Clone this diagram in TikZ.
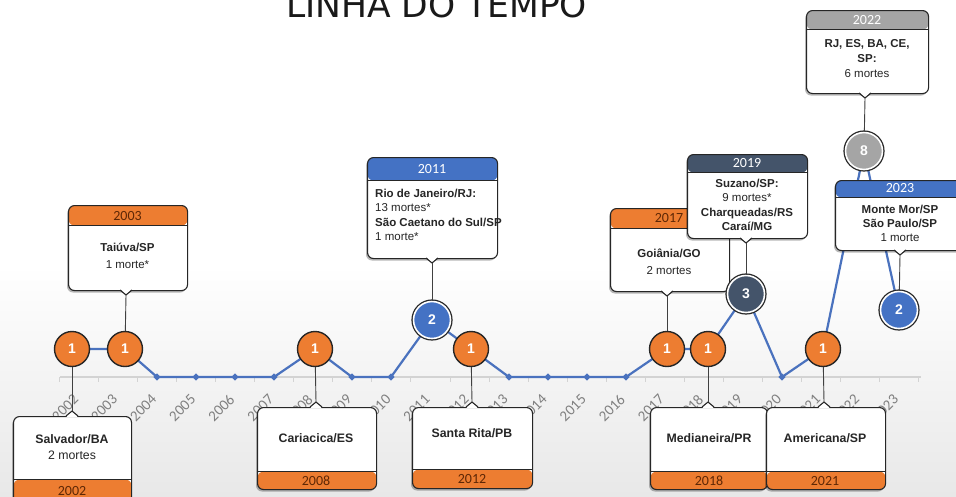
\documentclass[tikz,border=0pt]{standalone}
\usepackage{fontspec}
\setmainfont{Liberation Sans}
\newfontfamily\calfont{Carlito}
\newfontfamily\titlefont{DejaVu Sans}
\usetikzlibrary{shapes.geometric,shadows}
\definecolor{orC}{HTML}{ED7D31}
\definecolor{blC}{HTML}{4472C4}
\definecolor{naC}{HTML}{44546A}
\definecolor{grC}{HTML}{A5A5A5}
\definecolor{brC}{HTML}{5E2705}
\definecolor{lnC}{HTML}{4A72BE}
\definecolor{axC}{HTML}{D3D3D3}
\definecolor{ylC}{HTML}{808080}
\begin{document}
\begin{tikzpicture}[x=1pt,y=-1pt,
  card/.style={draw=black!85, line width=1.1pt, rounded corners=6pt, fill=white, inner sep=0pt, anchor=north west,
    drop shadow={shadow xshift=-1.5pt, shadow yshift=-2pt, opacity=0.28, fill=black}},
  hdr/.style 2 args={path picture={
    \fill[#1] (path picture bounding box.north west) rectangle ([yshift=-#2pt]path picture bounding box.north east);
    \draw[black!85,line width=1.1pt] ([yshift=-#2pt]path picture bounding box.north west) -- ([yshift=-#2pt]path picture bounding box.north east);}},
  ftr/.style 2 args={path picture={
    \fill[#1] (path picture bounding box.south west) rectangle ([yshift=#2pt]path picture bounding box.south east);
    \draw[black!85,line width=1.1pt] ([yshift=#2pt]path picture bounding box.south west) -- ([yshift=#2pt]path picture bounding box.south east);}},
  yr/.style={font=\calfont\fontsize{14}{14}\selectfont, inner sep=0pt},
  body/.style={font=\fontsize{11.5}{#1}\selectfont, align=center, text=black!85, inner sep=0pt},
  body/.default=16,
  bodyb/.style={font=\bfseries\fontsize{12.3}{14}\selectfont, align=center, text=black!85, inner sep=0pt},
  circ/.style={circle, minimum size=35pt, inner sep=0pt, fill=#1, draw=black!85, line width=1.4pt, text=white,
    font=\bfseries\fontsize{14}{14}\selectfont},
  rcirc/.style={circle, minimum size=37pt, inner sep=0pt, fill=#1, draw=white, line width=1.6pt, text=white,
    font=\bfseries\fontsize{14}{14}\selectfont, preaction={draw=black!85, line width=4.2pt}},
  dline/.style={draw=lnC, line width=2.2pt, line join=round},
  mk/.style={diamond, fill=lnC, inner sep=0pt, minimum size=7.5pt},
  conn/.style={draw=black!75, line width=0.9pt},
  ylab/.style={font=\calfont\fontsize{15}{15}\selectfont, text=ylC, rotate=45, anchor=east, inner sep=0pt},
  pics/ndown/.style={code={
    \fill[white] (-6,-1.3) -- (6,-1.3) -- (0,5) -- cycle;
    \draw[black!85,line width=1.1pt,line join=round] (-6,0) -- (0,5) -- (6,0);}},
  pics/nup/.style={code={
    \fill[white] (-6,1.3) -- (6,1.3) -- (0,-5) -- cycle;
    \draw[black!85,line width=1.1pt,line join=round] (-6,0) -- (0,-5) -- (6,0);}}
]
\useasboundingbox (0,0) rectangle (956,496);
\fill[white] (0,0) rectangle (956,496);
\shade[top color=white, bottom color=black!9] (0,265) rectangle (956,496);

% title
\node[font=\titlefont\fontsize{34.5}{34.5}\selectfont, anchor=base, text=black!90, inner sep=0pt] (title) at (436.5,17) {LINHA DO TEMPO};

% axis
\coordinate (axL) at (60,377);
\coordinate (axR) at (921,377);
\draw[axC, line width=1.6pt] (axL) -- (axR);
\foreach \k in {0,...,22} {
  \draw[axC, line width=1pt] (59.5+\k*39.05,377) -- ++(0,5);
}
\foreach \yy [count=\i from 0] in {2002,...,2023} {
  \node[ylab] (yl\yy) at (79+\i*39.05-3,397) {\yy};
}

% data points
\coordinate (p2002) at (72,349);
\coordinate (p2003) at (125,349);
\coordinate (p2004) at (157,377);
\coordinate (p2005) at (196,377);
\coordinate (p2006) at (235,377);
\coordinate (p2007) at (274,377);
\coordinate (p2008) at (315,349);
\coordinate (p2009) at (352,377);
\coordinate (p2010) at (391,377);
\coordinate (p2011) at (432,320);
\coordinate (p2012) at (471,349);
\coordinate (p2013) at (509,377);
\coordinate (p2014) at (548,377);
\coordinate (p2015) at (587,377);
\coordinate (p2016) at (626,377);
\coordinate (p2017) at (667,349);
\coordinate (p2018) at (708,349);
\coordinate (p2019) at (746,294);
\coordinate (p2020) at (782,377);
\coordinate (p2021) at (823,349);
\coordinate (p2022) at (864,151);
\coordinate (p2023) at (899,310);
\draw[dline] (p2002) -- (p2003) -- (p2004) -- (p2005) -- (p2006) -- (p2007) -- (p2008) -- (p2009) -- (p2010)
  -- (p2011) -- (p2012) -- (p2013) -- (p2014) -- (p2015) -- (p2016) -- (p2017) -- (p2018) -- (p2019)
  -- (p2020) -- (p2021) -- (p2022) -- (p2023);
\foreach \yy in {2004,2005,2006,2007,2009,2010,2013,2014,2015,2016,2020} {
  \node[mk] (m\yy) at (p\yy) {};
}

% ---------- upper cards ----------
\node[card, hdr={orC}{20}, minimum width=119pt, minimum height=85pt] (b2003) at (68,205) {};
\node[yr, text=brC] (h2003) at (127.5,215.5) {2003};
\node[body=17] (x2003) at (127.5,256) {\textbf{Taiúva/SP}\\1 morte*};
\pic at (126,290) {ndown};
\coordinate (t2003) at (126,295);

\node[card, hdr={blC}{23}, minimum width=130pt, minimum height=101pt] (b2011) at (367,157) {};
\node[yr, text=white] (h2011) at (432,169) {2011};
\node[body=14.3, align=left, anchor=north west] (x2011) at (375,189)
  {\textbf{Rio de Janeiro/RJ:}\\13 mortes*\\\textbf{São Caetano do Sul/SP}\\1 morte*};
\pic at (432,258) {ndown};
\coordinate (t2011) at (432,263);

\node[card, hdr={orC}{20}, minimum width=119pt, minimum height=83pt] (b2017) at (610,208) {};
\node[yr, text=brC] (h2017) at (669,218.5) {2017};
\node[body=17] (x2017) at (669,262) {\textbf{Goiânia/GO}\\2 mortes};
\pic at (667,291) {ndown};
\coordinate (t2017) at (667,296);

\node[card, hdr={naC}{18}, minimum width=120pt, minimum height=84pt] (b2019) at (687,154) {};
\node[yr, text=white] (h2019) at (747,163.5) {2019};
\node[body=14.3] (x2019) at (747,205) {\textbf{Suzano/SP:}\\9 mortes*\\\textbf{Charqueadas/RS}\\\textbf{Caraí/MG}};
\pic at (746,238) {ndown};
\coordinate (t2019) at (746,243);

\node[card, hdr={grC}{19}, minimum width=122pt, minimum height=83pt] (b2022) at (806,10) {};
\node[yr, text=white] (h2022) at (867,20) {2022};
\node[body=15] (x2022) at (867,59) {\textbf{RJ, ES, BA, CE,}\\\textbf{SP:}\\6 mortes};
\pic at (865,93) {ndown};
\coordinate (t2022) at (865,98);

\node[card, hdr={blC}{17}, minimum width=130pt, minimum height=70pt] (b2023) at (835,180) {};
\node[yr, text=white] (h2023) at (900,188.5) {2023};
\node[body=14] (x2023) at (900,223) {\textbf{Monte Mor/SP}\\\textbf{São Paulo/SP}\\1 morte};
\pic at (900,250) {ndown};
\coordinate (t2023) at (900,255);

% ---------- lower cards ----------
\node[card, ftr={orC}{23}, minimum width=118pt, minimum height=86pt] (b2002) at (13,416) {};
\node[yr, text=brC] (h2002) at (72,491) {2002};
\node[body=16, font=\fontsize{12.3}{16}\selectfont] (x2002) at (72,447) {\textbf{Salvador/BA}\\2 mortes};
\pic at (72,416) {nup};
\coordinate (t2002) at (72,411);

\node[card, ftr={orC}{18}, minimum width=119pt, minimum height=82pt] (b2008) at (257,407) {};
\node[yr, text=brC] (h2008) at (316,481) {2008};
\node[bodyb] (x2008) at (316,438) {Cariacica/ES};
\pic at (316,407) {nup};
\coordinate (t2008) at (316,402);

\node[card, ftr={orC}{19}, minimum width=120pt, minimum height=81pt] (b2012) at (412,407) {};
\node[yr, text=brC] (h2012) at (472,479) {2012};
\node[bodyb] (x2012) at (472,433) {Santa Rita/PB};
\pic at (472,407) {nup};
\coordinate (t2012) at (472,402);

\node[card, ftr={orC}{18}, minimum width=117pt, minimum height=82pt] (b2018) at (650,407) {};
\node[yr, text=brC] (h2018) at (709,481) {2018};
\node[bodyb] (x2018) at (709,438) {Medianeira/PR};
\pic at (708,407) {nup};
\coordinate (t2018) at (708,402);

\node[card, ftr={orC}{18}, minimum width=119pt, minimum height=82pt] (b2021) at (766,407) {};
\node[yr, text=brC] (h2021) at (825,481) {2021};
\node[bodyb] (x2021) at (825,438) {Americana/SP};
\pic at (824,407) {nup};
\coordinate (t2021) at (824,402);

% ---------- circles ----------
\node[circ=orC] (c2002) at (p2002) {1};
\node[circ=orC] (c2003) at (p2003) {1};
\node[circ=orC] (c2008) at (p2008) {1};
\node[rcirc=blC] (c2011) at (p2011) {2};
\node[circ=orC] (c2012) at (p2012) {1};
\node[circ=orC] (c2017) at (p2017) {1};
\node[circ=orC] (c2018) at (p2018) {1};
\node[rcirc=naC] (c2019) at (p2019) {3};
\node[circ=orC] (c2021) at (p2021) {1};
\node[rcirc=grC] (c2022) at (p2022) {8};
\node[rcirc=blC] (c2023) at (p2023) {2};

% ---------- connectors ----------
\foreach \yy in {2002,2003,2008,2011,2012,2017,2018,2019,2021,2022,2023} {
  \draw[conn] (t\yy) -- (c\yy);
}
\end{tikzpicture}
\end{document}
